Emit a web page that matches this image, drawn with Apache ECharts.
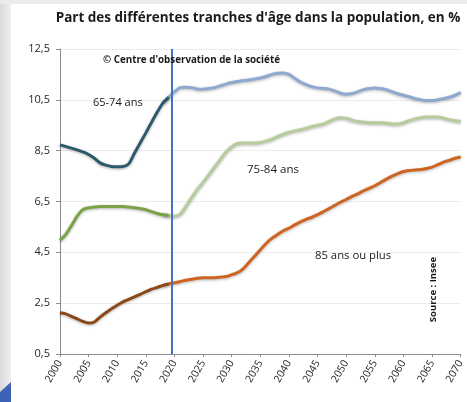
<!DOCTYPE html>
<html style="height:100%;">
<head>
    <meta charset="utf-8">
    <title>Part des différentes tranches d'âge</title>
    <script src="https://cdn.jsdelivr.net/npm/echarts@6/dist/echarts.min.js"></script>
</head>
<body style="height:100%; margin:0; background:#fff;">
    <div id="main" style="width:467px; height:402px;"></div>
    <script type="text/javascript">
    // 65-74 ans : observé (foncé) puis projection (clair)
    var yearsA1 = [2000, 2002, 2004, 2005, 2006, 2007, 2008, 2009, 2010, 2011, 2012, 2013, 2014, 2015, 2016, 2017, 2018, 2019];
    var valsA1 = [8.73, 8.6, 8.45, 8.35, 8.2, 8.02, 7.93, 7.88, 7.87, 7.88, 7.98, 8.4, 8.8, 9.2, 9.62, 10.02, 10.38, 10.6];
    var yearsA2 = [2018, 2019, 2020, 2021, 2022, 2023, 2024, 2025, 2026, 2027, 2028, 2029, 2030, 2031, 2032, 2033, 2034, 2035, 2036, 2037, 2038, 2039, 2040, 2041, 2042, 2043, 2044, 2045, 2046, 2047, 2048, 2049, 2050, 2051, 2052, 2053, 2054, 2055, 2056, 2057, 2058, 2059, 2060, 2061, 2062, 2063, 2064, 2065, 2066, 2067, 2068, 2069, 2070];
    var valsA2 = [10.38, 10.6, 10.82, 10.98, 11.0, 10.98, 10.93, 10.92, 10.95, 10.98, 11.05, 11.12, 11.18, 11.22, 11.26, 11.28, 11.32, 11.36, 11.42, 11.5, 11.55, 11.56, 11.5, 11.35, 11.2, 11.1, 11.02, 10.97, 10.95, 10.92, 10.85, 10.76, 10.72, 10.75, 10.82, 10.9, 10.95, 10.97, 10.95, 10.9, 10.82, 10.74, 10.68, 10.62, 10.55, 10.5, 10.47, 10.47, 10.5, 10.55, 10.6, 10.68, 10.78];

    // 75-84 ans
    var yearsB1 = [2000, 2001, 2002, 2003, 2004, 2005, 2006, 2007, 2008, 2009, 2010, 2011, 2012, 2013, 2014, 2015, 2016, 2017, 2018, 2019];
    var valsB1 = [4.97, 5.2, 5.55, 5.92, 6.18, 6.25, 6.28, 6.3, 6.3, 6.3, 6.3, 6.3, 6.28, 6.25, 6.22, 6.18, 6.1, 6.03, 5.98, 5.95];
    var yearsB2 = [2018, 2019, 2020, 2021, 2022, 2023, 2024, 2025, 2026, 2027, 2028, 2029, 2030, 2031, 2032, 2033, 2034, 2035, 2036, 2037, 2038, 2039, 2040, 2041, 2042, 2043, 2044, 2045, 2046, 2047, 2048, 2049, 2050, 2051, 2052, 2053, 2054, 2055, 2056, 2057, 2058, 2059, 2060, 2061, 2062, 2063, 2064, 2065, 2066, 2067, 2068, 2069, 2070];
    var valsB2 = [5.98, 5.95, 5.92, 6.0, 6.3, 6.65, 6.98, 7.25, 7.55, 7.85, 8.15, 8.45, 8.65, 8.78, 8.8, 8.8, 8.8, 8.82, 8.88, 8.95, 9.05, 9.15, 9.22, 9.28, 9.32, 9.38, 9.45, 9.5, 9.55, 9.65, 9.75, 9.8, 9.78, 9.7, 9.65, 9.62, 9.6, 9.6, 9.6, 9.58, 9.55, 9.55, 9.6, 9.68, 9.75, 9.8, 9.82, 9.82, 9.82, 9.78, 9.72, 9.68, 9.65];

    // 85 ans ou plus
    var yearsC1 = [2000, 2001, 2002, 2003, 2004, 2005, 2006, 2007, 2008, 2009, 2010, 2011, 2012, 2013, 2014, 2015, 2016, 2017, 2018, 2019];
    var valsC1 = [2.12, 2.08, 1.98, 1.88, 1.78, 1.72, 1.76, 1.95, 2.12, 2.28, 2.42, 2.55, 2.65, 2.75, 2.85, 2.95, 3.05, 3.12, 3.2, 3.26];
    var yearsC2 = [2018, 2019, 2020, 2021, 2022, 2023, 2024, 2025, 2026, 2027, 2028, 2029, 2030, 2031, 2032, 2033, 2034, 2035, 2036, 2037, 2038, 2039, 2040, 2041, 2042, 2043, 2044, 2045, 2046, 2047, 2048, 2049, 2050, 2051, 2052, 2053, 2054, 2055, 2056, 2057, 2058, 2059, 2060, 2061, 2062, 2063, 2064, 2065, 2066, 2067, 2068, 2069, 2070];
    var valsC2 = [3.2, 3.26, 3.3, 3.35, 3.4, 3.44, 3.48, 3.5, 3.5, 3.5, 3.52, 3.55, 3.62, 3.7, 3.85, 4.1, 4.35, 4.6, 4.85, 5.05, 5.2, 5.35, 5.45, 5.58, 5.7, 5.8, 5.88, 5.98, 6.1, 6.22, 6.35, 6.47, 6.58, 6.7, 6.8, 6.92, 7.02, 7.12, 7.25, 7.38, 7.5, 7.6, 7.68, 7.72, 7.74, 7.76, 7.8, 7.85, 7.95, 8.05, 8.12, 8.2, 8.25];

    var separationYear = 2019.5;

    function pairs(xs, ys) {
        return xs.map(function (x, i) { return [x, ys[i]]; });
    }

    function lineSeries(name, xs, ys, color) {
        return {
            name: name,
            type: 'line',
            data: pairs(xs, ys),
            symbol: 'none',
            smooth: 0.3,
            lineStyle: {
                color: color,
                width: 3,
                shadowColor: 'rgba(0,0,0,0.3)',
                shadowBlur: 3,
                shadowOffsetY: 1
            },
            z: 3
        };
    }

    var font = '"Open Sans", "Liberation Sans", sans-serif';
    var myChart = echarts.init(document.getElementById('main'));

    var series = [
        lineSeries('65-74 ans proj', yearsA2, valsA2, '#8fa8d0'),
        lineSeries('65-74 ans', yearsA1, valsA1, '#2c5a6a'),
        lineSeries('75-84 ans proj', yearsB2, valsB2, '#b6cd9b'),
        lineSeries('75-84 ans', yearsB1, valsB1, '#7aa346'),
        lineSeries('85+ proj', yearsC2, valsC2, '#cf6420'),
        lineSeries('85+', yearsC1, valsC1, '#8a4818')
    ];
    series[0].markLine = {
        silent: true,
        symbol: 'none',
        label: { show: false },
        lineStyle: { color: '#4472c4', width: 2, type: 'solid' },
        data: [{ xAxis: separationYear }]
    };

    myChart.setOption({
        animation: false,
        backgroundColor: '#ffffff',
        textStyle: { fontFamily: font },
        title: {
            text: "Part des différentes tranches d'âge dans la population, en %",
            left: 253,
            top: 6,
            textAlign: 'center',
            textStyle: { fontSize: 13.5, fontWeight: 'bold', color: '#1a1a1a', fontFamily: font }
        },
        grid: { left: 60, right: 6, top: 49, bottom: 48 },
        xAxis: {
            type: 'value',
            min: 2000,
            max: 2070,
            interval: 5,
            axisLine: { show: true, lineStyle: { color: '#8c8c8c' } },
            axisTick: { show: true, length: 3, lineStyle: { color: '#8c8c8c' } },
            splitLine: { show: false },
            axisLabel: {
                rotate: 60,
                fontSize: 10.5,
                color: '#262626',
                margin: 7,
                formatter: function (v) { return String(v); }
            }
        },
        yAxis: {
            type: 'value',
            min: 0.5,
            max: 12.5,
            interval: 2,
            axisLine: { show: true, lineStyle: { color: '#8c8c8c' } },
            axisTick: { show: true, inside: false, length: 4, lineStyle: { color: '#8c8c8c' } },
            splitLine: { show: true, lineStyle: { color: '#ececec' } },
            axisLabel: {
                fontSize: 11,
                color: '#262626',
                margin: 10,
                formatter: function (v) { return v.toFixed(1).replace('.', ','); }
            }
        },
        graphic: [
            {
                type: 'rect',
                left: 0, top: 0,
                shape: { width: 11, height: 402 },
                style: { fill: new echarts.graphic.LinearGradient(0, 0, 1, 0, [
                    { offset: 0, color: '#d9d9d9' }, { offset: 1, color: '#f0f0f0' }]) },
                z: -1
            },
            {
                type: 'rect',
                left: 0, top: 0,
                shape: { width: 467, height: 4 },
                style: { fill: '#ececec' },
                z: -1
            },
            {
                type: 'polygon',
                shape: { points: [[0, 402], [0, 392], [11, 382], [11, 402]] },
                style: { fill: '#3d63b8' },
                z: -1
            },
            {
                type: 'text', left: 103, top: 55, z: 10,
                style: { text: "© Centre d'observation de la société", font: 'bold 9.8px ' + font, fill: '#1a1a1a', backgroundColor: 'transparent' }
            },
            {
                type: 'text', left: 93, top: 97, z: 10,
                style: { text: '65-74 ans', font: '11px ' + font, fill: '#1a1a1a' }
            },
            {
                type: 'text', left: 247, top: 164, z: 10,
                style: { text: '75-84 ans', font: '11.5px ' + font, fill: '#1a1a1a' }
            },
            {
                type: 'text', left: 315, top: 250, z: 10,
                style: { text: '85 ans ou plus', font: '11.3px ' + font, fill: '#1a1a1a' }
            },
            {
                type: 'text', left: 428, top: 257, z: 10,
                rotation: Math.PI / 2,
                originX: 0, originY: 0,
                style: { text: 'Source : Insee', font: 'bold 9.5px ' + font, fill: '#1a1a1a', align: 'right', verticalAlign: 'middle' }
            }
        ],
        series: series
    });
    </script>
</body>
</html>
